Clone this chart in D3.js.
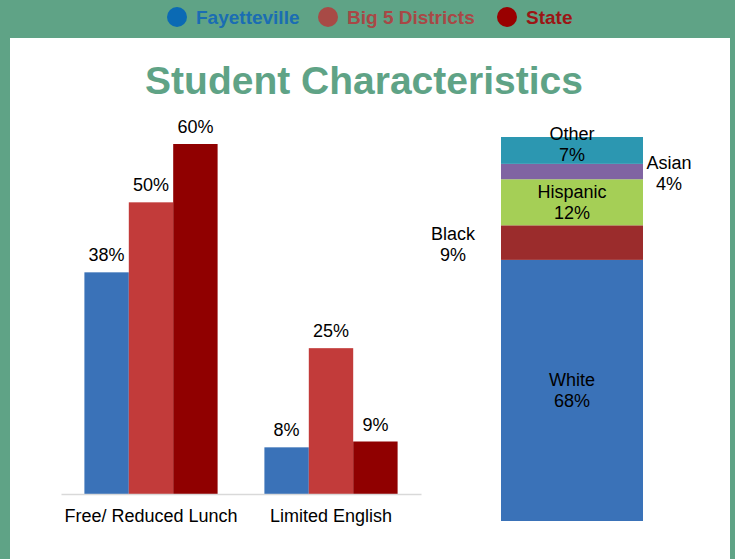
<!DOCTYPE html>
<html>
<head>
<meta charset="utf-8">
<script src="https://cdn.jsdelivr.net/npm/d3@7"></script>
<style>
  body { margin: 0; background: #5fa386; }
  svg { display: block; font-family: "Liberation Sans", Arial, sans-serif; }
</style>
</head>
<body>
<div id="chart"></div>
<script>
// chart values
var categories = ["Free/ Reduced Lunch", "Limited English"];
var seriesNames = ["Fayetteville", "Big 5 Districts", "State"];
var fayetteville = [38, 8];
var big5 = [50, 25];
var state = [60, 9];

var ethnicities = ["White", "Black", "Hispanic", "Asian", "Other"];
var ethnicShare = [68, 9, 12, 4, 7];

var width = 735, height = 559;

var svg = d3.select("#chart").append("svg")
    .attr("width", width)
    .attr("height", height);

// green frame + white panel
svg.append("rect").attr("width", width).attr("height", height).attr("fill", "#5fa386");
svg.append("rect").attr("x", 10).attr("y", 38).attr("width", 720).attr("height", height - 38).attr("fill", "#ffffff");

// legend
var legendDot = ["#0b6ab4", "#a84a46", "#990000"];
var legendText = ["#1a6db3", "#a84846", "#9b1515"];
var legendX = [177, 328, 507];
var legend = svg.append("g").selectAll("g")
  .data(seriesNames)
  .enter().append("g")
    .attr("transform", function(d, i) { return "translate(" + legendX[i] + ",17)"; });
legend.append("circle").attr("r", 10).attr("fill", function(d, i) { return legendDot[i]; });
legend.append("text")
    .attr("x", 19)
    .attr("dy", "0.35em")
    .style("font-size", "19px")
    .style("font-weight", "bold")
    .attr("fill", function(d, i) { return legendText[i]; })
    .text(function(d) { return d; });

// title
svg.append("text")
    .attr("x", 364)
    .attr("y", 94)
    .attr("text-anchor", "middle")
    .style("font-size", "39px")
    .style("font-weight", "bold")
    .attr("fill", "#5fa386")
    .text("Student Characteristics");

// grouped bar chart
var barColors = ["#3a72b8", "#c23b3a", "#900000"];
var values = [fayetteville, big5, state];

var x0 = d3.scaleBand()
    .domain(categories)
    .range([61, 421])
    .paddingInner(0.26)
    .paddingOuter(0.13);
var x1 = d3.scaleBand()
    .domain(seriesNames)
    .range([0, x0.bandwidth()]);
var y = d3.scaleLinear()
    .domain([0, 60])
    .range([494, 144]);

var groups = svg.append("g").selectAll("g")
  .data(categories)
  .enter().append("g")
    .attr("transform", function(d) { return "translate(" + x0(d) + ",0)"; });

function groupData(d, ci) {
  return seriesNames.map(function(s, si) { return {s: s, si: si, v: values[si][ci]}; });
}

groups.selectAll("rect")
  .data(groupData)
  .enter().append("rect")
    .attr("x", function(d) { return x1(d.s); })
    .attr("y", function(d) { return y(d.v); })
    .attr("width", x1.bandwidth())
    .attr("height", function(d) { return y(0) - y(d.v); })
    .attr("fill", function(d) { return barColors[d.si]; });

groups.selectAll("text")
  .data(groupData)
  .enter().append("text")
    .attr("x", function(d) { return x1(d.s) + x1.bandwidth() / 2; })
    .attr("y", function(d) { return y(d.v) - 11; })
    .attr("text-anchor", "middle")
    .style("font-size", "18px")
    .attr("fill", "#000")
    .text(function(d) { return d.v + "%"; });

// x axis
var xAxis = svg.append("g")
    .attr("transform", "translate(0," + y(0) + ")")
    .call(d3.axisBottom(x0).tickSize(0).tickPadding(15));
xAxis.select(".domain").attr("stroke", "#d9d9d9").attr("stroke-width", 1.5);
xAxis.selectAll("text")
    .style("font-size", "18px")
    .style("font-family", "Liberation Sans, Arial, sans-serif")
    .attr("fill", "#000");

// stacked ethnicity bar
var ethColors = ["#3a72b8", "#9b2c2c", "#a5cf56", "#8064a2", "#2c97b1"];
var ys = d3.scaleLinear().domain([0, 100]).range([521, 137]);
var stackX = 501, stackW = 142;

var cum = 0;
var segs = ethnicities.map(function(name, i) {
  var s = {name: name, v: ethnicShare[i], y0: cum, y1: cum + ethnicShare[i], i: i};
  cum += ethnicShare[i];
  return s;
});

svg.append("g").selectAll("rect")
  .data(segs)
  .enter().append("rect")
    .attr("x", stackX)
    .attr("y", function(d) { return ys(d.y1); })
    .attr("width", stackW)
    .attr("height", function(d) { return ys(d.y0) - ys(d.y1); })
    .attr("fill", function(d) { return ethColors[d.i]; });

// label placement: inside for big segments, outside for small ones
function labelX(d) {
  if (d.name === "Asian") return 669;
  if (d.name === "Black") return 453;
  return stackX + stackW / 2;
}
function labelY(d) {
  var c = (ys(d.y0) + ys(d.y1)) / 2;
  if (d.name === "Other") return c - 6;
  if (d.name === "Asian") return c + 2;
  if (d.name === "Black") return c + 2;
  return c;
}

var labels = svg.append("g").selectAll("text")
  .data(segs)
  .enter().append("text")
    .attr("text-anchor", "middle")
    .style("font-size", "18px")
    .attr("fill", "#000");
labels.append("tspan")
    .attr("x", labelX)
    .attr("y", function(d) { return labelY(d) - 10.5; })
    .attr("dy", "0.35em")
    .text(function(d) { return d.name; });
labels.append("tspan")
    .attr("x", labelX)
    .attr("y", function(d) { return labelY(d) + 10.5; })
    .attr("dy", "0.35em")
    .text(function(d) { return d.v + "%"; });
</script>
</body>
</html>
